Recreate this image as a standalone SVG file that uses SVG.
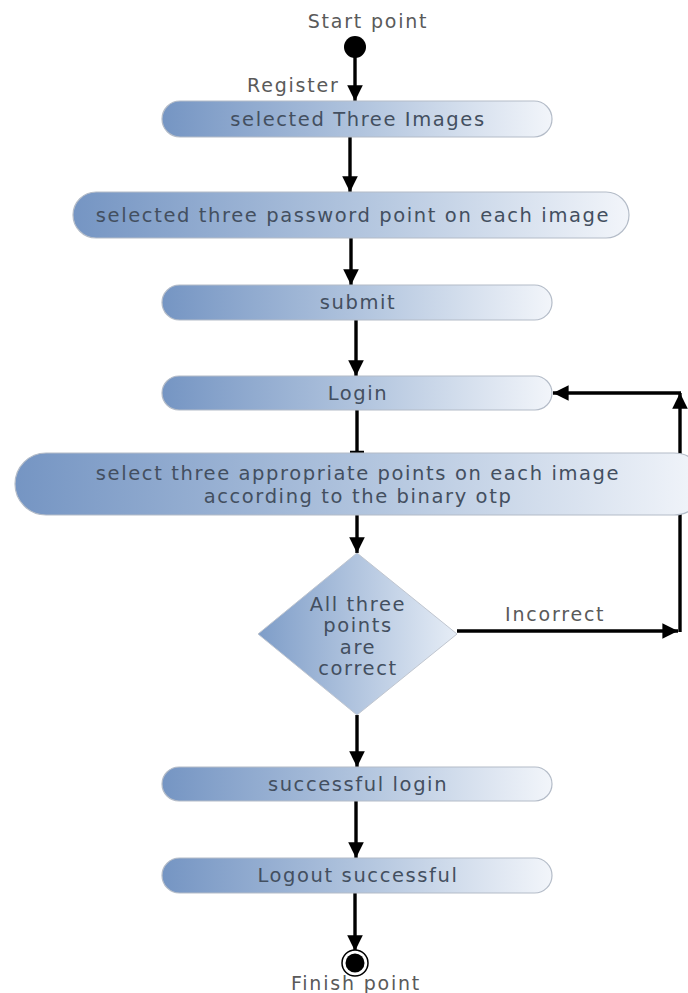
<svg xmlns="http://www.w3.org/2000/svg" width="688" height="993" viewBox="0 0 688 993">
<defs>
<linearGradient id="g" x1="0" y1="0" x2="1" y2="0">
<stop offset="0" stop-color="#7595c3"/>
<stop offset="0.55" stop-color="#b6c8e0"/>
<stop offset="1" stop-color="#f2f5fa"/>
</linearGradient>
<linearGradient id="gd" x1="0" y1="0" x2="1" y2="0">
<stop offset="0" stop-color="#7e9dc8"/>
<stop offset="1" stop-color="#e6edf6"/>
</linearGradient>
<marker id="ah" viewBox="0 0 10 10" refX="10" refY="5" markerWidth="4.6" markerHeight="4.6" orient="auto" markerUnits="strokeWidth">
<path d="M0,0 L10,5 L0,10 z" fill="#000"/>
</marker>
<style>
.box{fill:url(#g);stroke:#b4bcc8;stroke-width:1.2}
.t{font-family:"DejaVu Sans",Verdana,sans-serif;font-size:19.5px;fill:#434f60;text-anchor:middle;letter-spacing:1.6px}
.lbl{font-family:"DejaVu Sans",Verdana,sans-serif;font-size:19px;fill:#5a5a5a;letter-spacing:1.8px}
.c{stroke:#000;stroke-width:3.4;fill:none}
</style>
</defs>
<rect width="688" height="993" fill="#fff"/>
<g id="connectors">
<line class="c" x1="355" y1="50" x2="355" y2="101" marker-end="url(#ah)"/>
<line class="c" x1="350" y1="137" x2="350" y2="192" marker-end="url(#ah)"/>
<line class="c" x1="351" y1="238" x2="351" y2="285" marker-end="url(#ah)"/>
<line class="c" x1="356" y1="320" x2="356" y2="376" marker-end="url(#ah)"/>
<line class="c" x1="357" y1="410" x2="357" y2="452"/>
<line x1="350" y1="452" x2="364" y2="452" stroke="#000" stroke-width="2.5"/>
<line class="c" x1="357" y1="515" x2="357" y2="553" marker-end="url(#ah)"/>
<polyline class="c" points="457,631 678,631" marker-end="url(#ah)"/>
<polyline class="c" points="680,632 680,393" marker-end="url(#ah)"/>
<polyline class="c" points="681,393 553,393" marker-end="url(#ah)"/>
<line class="c" x1="357" y1="715" x2="357" y2="767" marker-end="url(#ah)"/>
<line class="c" x1="356" y1="801" x2="356" y2="858" marker-end="url(#ah)"/>
<line class="c" x1="355" y1="893" x2="355" y2="951" marker-end="url(#ah)"/>
<text class="lbl" x="247" y="92">Register</text>
<text class="lbl" x="505" y="621">Incorrect</text>
</g>
<g id="start">
<circle cx="355" cy="47" r="11" fill="#000"/>
<text class="lbl" x="368" y="28" text-anchor="middle">Start point</text>
</g>
<g id="n1">
<rect class="box" x="162" y="101" width="390" height="36" rx="18"/>
<text class="t" x="358" y="126">selected Three Images</text>
</g>
<g id="n2">
<rect class="box" x="73" y="192" width="556" height="46" rx="23"/>
<text class="t" x="353" y="222">selected three password point on each image</text>
</g>
<g id="n3">
<rect class="box" x="162" y="285" width="390" height="35" rx="17.5"/>
<text class="t" x="358" y="309">submit</text>
</g>
<g id="n4">
<rect class="box" x="162" y="376" width="390" height="34" rx="17"/>
<text class="t" x="358" y="400">Login</text>
</g>
<g id="n5">
<rect class="box" x="15" y="453" width="690" height="62" rx="31"/>
<text class="t" x="358" y="480">select three appropriate points on each image</text>
<text class="t" x="358" y="503">according to the binary otp</text>
</g>
<g id="decision">
<polygon points="357,553 457,634 357,715 258,634" fill="url(#gd)" stroke="#c0c6d0" stroke-width="1"/>
<text class="t" x="358" y="611">All three</text>
<text class="t" x="358" y="632">points</text>
<text class="t" x="358" y="654">are</text>
<text class="t" x="358" y="675">correct</text>
</g>
<g id="n6">
<rect class="box" x="162" y="767" width="390" height="34" rx="17"/>
<text class="t" x="358" y="791">successful login</text>
</g>
<g id="n7">
<rect class="box" x="162" y="858" width="390" height="35" rx="17.5"/>
<text class="t" x="358" y="882">Logout successful</text>
</g>
<g id="finish">
<circle cx="355" cy="963" r="13" fill="#fff" stroke="#000" stroke-width="1.5"/>
<circle cx="355" cy="963" r="9.5" fill="#000"/>
<text class="lbl" x="356" y="990" text-anchor="middle">Finish point</text>
</g>
</svg>
